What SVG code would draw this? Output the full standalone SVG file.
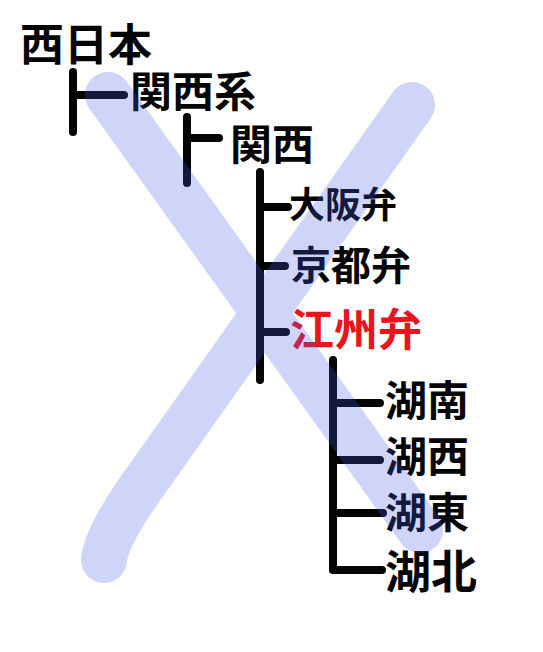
<svg xmlns="http://www.w3.org/2000/svg" width="543" height="652" viewBox="0 0 543 652">
<style>
.t{font-family:"Noto Sans CJK JP","Noto Sans CJK SC",sans-serif;font-weight:700;fill:#050505}
.red{fill:#e8141e}
.ln{stroke:#050505;stroke-width:8;stroke-linecap:round;stroke-linejoin:round;fill:none}
.x{stroke:rgb(63,91,231);stroke-width:46;stroke-linecap:round;stroke-linejoin:round;fill:none}
</style>
<rect width="543" height="652" fill="#fff"/>
<g id="connectors">
<path class="ln" d="M73,72 V132 M73,95 H124"/>
<path class="ln" d="M187,117 V183 M187,138 H219"/>
<path class="ln" d="M260,172 V380 M260,207 H288 M260,266 H285 M260,332 H286"/>
<path class="ln" d="M333,360 V570 H382 M333,403 H380 M333,460 H380 M333,513 H383"/>
</g>
<g id="n-nishinihon"><text class="t" x="20" y="61" font-size="44">西日本</text></g>
<g id="n-kansaikei"><text class="t" x="130" y="107" font-size="42">関西系</text></g>
<g id="n-kansai"><text class="t" x="230" y="160" font-size="42">関西</text></g>
<g id="n-osaka"><text class="t" x="289" y="218" font-size="36">大阪弁</text></g>
<g id="n-kyoto"><text class="t" x="291" y="280" font-size="40">京都弁</text></g>
<g id="n-goshu"><text class="t red" x="290" y="346" font-size="44">江州弁</text></g>
<g id="n-konan"><text class="t" x="385" y="416" font-size="42">湖南</text></g>
<g id="n-kosei"><text class="t" x="385" y="472" font-size="42">湖西</text></g>
<g id="n-koto"><text class="t" x="385" y="528" font-size="42">湖東</text></g>
<g id="n-kohoku"><text class="t" x="385" y="588" font-size="46">湖北</text></g>
<g id="cross" opacity="0.25">
<path class="x" d="M108,95 L420,530"/>
<path class="x" d="M412,105 L150,475 Q106,535 104,560"/>
</g>
</svg>
